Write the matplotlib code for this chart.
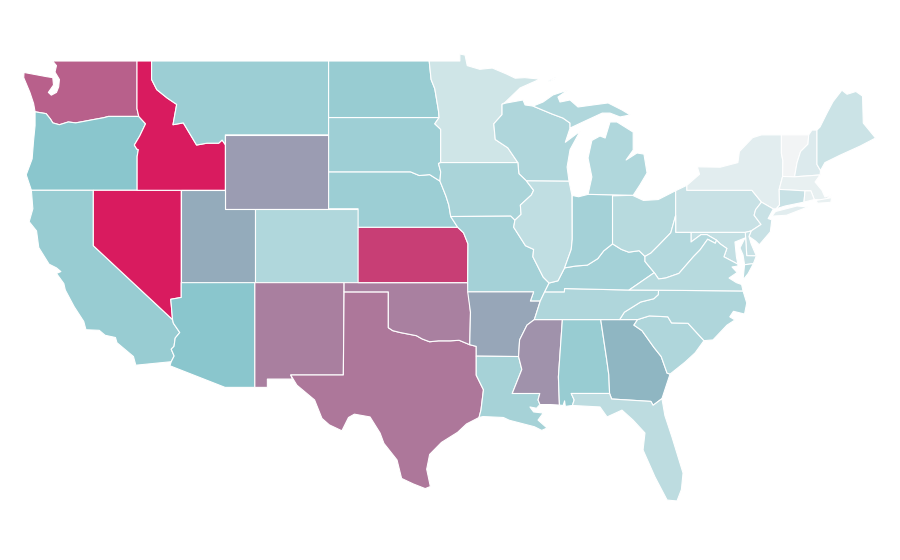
import matplotlib
matplotlib.use('Agg')
import matplotlib.pyplot as plt
from matplotlib.colors import LinearSegmentedColormap

# state outlines in lon/lat
snake = [(-116.92,46.0),(-116.46,45.6),(-116.85,44.95),(-117.22,44.45),(-117.05,44.23),(-116.95,44.2),(-117.03,43.83),(-117.03,42.0)]
columbia = [(-123.95,46.25),(-123.2,46.15),(-122.9,45.85),(-122.75,45.65),(-122.3,45.55),(-121.7,45.7),(-121.2,45.65),(-120.65,45.73),(-119.99,45.83),(-119.3,45.93),(-118.98,46.0),(-116.92,46.0)]
bitterroot = [(-116.05,49.0),(-116.05,48.0),(-115.7,47.45),(-115.0,47.0),(-114.35,46.65),(-114.6,45.55),(-113.9,45.65),(-113.45,45.05),(-113.0,44.45),(-112.3,44.55),(-111.5,44.55),(-111.27,44.72),(-111.05,44.47)]
colorado_r = [(-114.75,36.1),(-114.63,35.0),(-114.57,34.8),(-114.14,34.3),(-114.45,34.0),(-114.53,33.55),(-114.72,33.4),(-114.52,33.03),(-114.72,32.72)]
red_r = [(-94.48,33.64),(-95.2,33.88),(-95.8,33.85),(-96.6,33.85),(-97.2,33.8),(-97.7,33.95),(-98.1,34.13),(-99.2,34.3),(-99.7,34.4),(-100.0,34.56)]
mo_lower = [(-96.5,42.5),(-96.1,41.7),(-95.9,41.2),(-95.77,40.58),(-95.3,40.0)]
mn_wi = [(-92.29,46.66),(-92.29,46.1),(-92.85,45.6),(-92.75,44.75),(-91.9,44.3),(-91.22,43.5)]
ms_ia_il = [(-91.22,43.5),(-91.15,42.9),(-90.64,42.51),(-90.15,42.0),(-90.3,41.75),(-91.05,41.2),(-91.0,40.7),(-91.42,40.38)]
ms_mo_il = [(-91.42,40.38),(-91.5,40.0),(-90.7,39.0),(-90.15,38.8),(-90.2,38.4),(-89.5,37.3),(-89.1,36.98)]
ms_south = [(-89.4,36.5),(-89.7,36.0),(-90.1,35.0)]
ms_ar = [(-90.1,35.0),(-90.6,34.7),(-91.1,33.9),(-91.17,33.0)]
ms_la = [(-91.17,33.0),(-90.95,32.3),(-91.6,31.0)]
ohio_il_ky = [(-89.1,36.98),(-88.5,37.1),(-88.05,37.8)]
ohio_in_ky = [(-88.05,37.8),(-87.3,37.9),(-86.5,37.95),(-85.8,38.3),(-85.4,38.72),(-84.8,39.1)]
ohio_oh_ky = [(-84.8,39.1),(-84.2,38.8),(-83.7,38.65),(-83.0,38.73),(-82.6,38.42)]
ohio_oh_wv = [(-82.6,38.42),(-82.2,38.6),(-81.7,39.0),(-80.85,39.7),(-80.52,40.64)]
ky_wv = [(-82.6,38.42),(-82.6,38.15),(-81.97,37.54)]
va_wv = [(-81.97,37.54),(-81.68,37.2),(-81.2,37.25),(-80.3,37.5),(-79.3,38.42),(-78.87,38.77),(-78.35,39.35),(-77.83,39.13),(-77.75,39.3)]
potomac = [(-77.75,39.3),(-77.5,39.1),(-77.05,38.85),(-77.25,38.4),(-76.3,38.0)]
md_wv = [(-77.75,39.3),(-78.4,39.6),(-78.8,39.6),(-79.48,39.2),(-79.48,39.72)]
tn_nc = [(-81.68,36.59),(-81.7,36.35),(-82.0,36.13),(-82.9,35.95),(-84.0,35.4),(-84.32,35.0)]
sc_nc = [(-83.1,35.0),(-82.3,35.2),(-81.05,35.15),(-80.8,34.82),(-79.68,34.8),(-78.6,33.86)]
sc_ga = [(-83.1,35.0),(-83.35,34.7),(-82.8,34.4),(-82.0,33.5),(-81.5,33.0),(-81.1,32.1),(-80.9,32.05)]
al_ga = [(-85.6,35.0),(-85.2,32.87),(-85.05,32.0),(-85.0,31.0)]
fl_ga = [(-85.0,31.0),(-84.86,30.7),(-82.2,30.57),(-82.05,30.36),(-81.45,30.72)]
nj_pa = [(-74.7,41.36),(-75.1,40.95),(-75.2,40.65),(-74.73,40.15),(-75.4,39.8)]
wi_mi = [(-90.19,46.56),(-88.9,46.13),(-88.16,45.91),(-87.68,45.64),(-87.68,45.37)]
vt_nh = [(-71.5,45.0),(-71.55,44.5),(-72.05,44.1),(-72.29,43.5),(-72.46,42.73)]
vt_ny = [(-73.35,45.0),(-73.35,44.0),(-73.25,43.6),(-73.27,42.75)]

outlines = {
    'WA': [[(-117.03,49.0),(-122.76,49.0),(-122.5,48.75),(-122.6,48.4),(-122.3,48.0),(-122.35,47.6),(-122.5,47.3),(-122.85,47.15),(-123.05,47.3),(-122.7,47.7),(-122.75,48.1),(-123.15,48.15),(-124.7,48.38),(-124.72,48.1),(-124.3,47.3),(-124.05,46.7)] + columbia + [(-117.04,46.42)]],
    'OR': [[(-124.2,42.0),(-124.55,42.84),(-124.15,43.7),(-124.05,44.7),(-123.95,45.5)] + columbia + snake],
    'CA': [[(-124.2,42.0),(-120.0,42.0),(-120.0,39.0)] + colorado_r[1:] + [(-117.12,32.53),(-117.28,33.0),(-118.4,33.75),(-118.5,34.03),(-119.2,34.15),(-119.6,34.42),(-120.5,34.45),(-120.65,34.9),(-121.3,35.7),(-121.9,36.6),(-122.0,36.95),(-122.5,37.5),(-122.2,37.6),(-122.5,37.8),(-123.0,38.0),(-123.7,38.9),(-123.85,39.8),(-124.35,40.3),(-124.1,41.0)]],
    'NV': [[(-120.0,42.0),(-114.04,42.0),(-114.04,36.2)] + colorado_r[:2] + [(-120.0,39.0)]],
    'ID': [[(-117.04,49.0)] + bitterroot + [(-111.05,42.0)] + snake[::-1] + [(-117.04,46.42)]],
    'MT': [[(-104.05,49.0),(-104.05,45.0),(-111.05,45.0)] + bitterroot[::-1]],
    'WY': [[(-111.05,45.0),(-104.05,45.0),(-104.05,41.0),(-111.05,41.0)]],
    'UT': [[(-114.04,42.0),(-111.05,42.0),(-111.05,41.0),(-109.05,41.0),(-109.05,37.0),(-114.04,37.0)]],
    'CO': [[(-109.05,41.0),(-102.05,41.0),(-102.05,37.0),(-109.05,37.0)]],
    'AZ': [[(-114.04,37.0),(-109.05,37.0),(-109.05,31.33),(-111.07,31.33),(-114.81,32.5)] + colorado_r[::-1] + [(-114.04,36.2)]],
    'NM': [[(-109.05,37.0),(-103.0,37.0),(-103.05,32.0),(-106.62,32.0),(-106.5,31.78),(-108.2,31.78),(-108.2,31.33),(-109.05,31.33)]],
    'TX': [[(-103.0,36.5),(-100.0,36.5)] + red_r[::-1] + [(-94.04,33.55),(-94.04,31.99),(-93.55,31.2),(-93.72,30.1),(-93.85,29.7),(-94.7,29.35),(-95.3,28.9),(-96.4,28.35),(-97.2,27.7),(-97.4,26.9),(-97.15,25.96),(-97.5,25.85),(-98.3,26.1),(-99.1,26.4),(-99.41,27.4),(-100.3,28.3),(-100.56,28.86),(-101.24,29.73),(-102.3,29.88),(-102.7,29.7),(-103.15,28.98),(-104.0,29.3),(-104.5,29.65),(-105.0,30.65),(-106.2,31.45),(-106.62,32.0),(-103.05,32.0)]],
    'OK': [[(-103.0,37.0),(-94.62,37.0),(-94.43,35.4)] + red_r + [(-100.0,36.5),(-103.0,36.5)]],
    'KS': [[(-102.05,40.0),(-95.3,40.0),(-94.9,39.7),(-94.6,39.1),(-94.62,37.0),(-102.05,37.0)]],
    'NE': [[(-104.05,43.0),(-98.5,43.0),(-97.9,42.8),(-97.2,42.85)] + mo_lower + [(-102.05,40.0),(-102.05,41.0),(-104.05,41.0)]],
    'SD': [[(-104.05,45.94),(-96.56,45.94),(-96.85,45.6),(-96.45,45.3),(-96.45,43.5),(-96.6,43.45),(-96.45,43.0),(-96.5,42.5),(-97.2,42.85),(-97.9,42.8),(-98.5,43.0),(-104.05,43.0)]],
    'ND': [[(-104.05,49.0),(-97.23,49.0),(-97.1,48.0),(-96.85,47.5),(-96.6,46.3),(-96.56,45.94),(-104.05,45.94)]],
    'MN': [[(-97.23,49.0),(-95.15,49.0),(-95.15,49.38),(-94.8,49.32),(-94.65,48.75),(-93.8,48.55),(-92.95,48.62),(-92.0,48.3),(-91.4,48.07),(-90.75,48.1),(-89.72,48.02),(-91.07,47.54),(-92.1,46.75)] + mn_wi + [(-96.45,43.5),(-96.45,45.3),(-96.85,45.6),(-96.56,45.94),(-96.6,46.3),(-96.85,47.5),(-97.1,48.0)]],
    'WI': [[(-92.29,46.66),(-92.05,46.72),(-90.87,46.89),(-90.73,46.62)] + wi_mi + [(-88.0,44.6),(-87.0,45.2),(-87.68,44.2),(-87.88,43.26),(-87.75,42.49),(-90.64,42.51),(-91.15,42.9),(-91.22,43.5)] + mn_wi[::-1][1:]],
    'IA': [[(-96.45,43.5)] + ms_ia_il + [(-91.7,40.6),(-95.77,40.58),(-95.9,41.2),(-96.1,41.7),(-96.5,42.5),(-96.45,43.0),(-96.6,43.45)]],
    'MO': [[(-95.77,40.58),(-91.7,40.6)] + ms_mo_il + [(-89.4,36.5),(-89.7,36.0),(-90.37,36.0),(-90.15,36.5),(-94.62,36.5),(-94.62,37.0),(-94.6,39.1),(-94.9,39.7),(-95.3,40.0)]],
    'AR': [[(-94.62,36.5),(-90.15,36.5),(-90.37,36.0),(-89.7,36.0)] + ms_ar + [(-94.04,33.02),(-94.04,33.55),(-94.48,33.64),(-94.43,35.4)]],
    'LA': [[(-94.04,33.02)] + ms_la + [(-89.73,31.0),(-89.85,30.65),(-89.72,30.4),(-89.95,30.2),(-90.4,30.27),(-90.15,30.0),(-89.5,29.94),(-89.85,29.56),(-89.24,29.13),(-89.6,29.0),(-90.1,29.2),(-91.07,29.4),(-91.8,29.55),(-92.2,29.7),(-93.58,29.75),(-93.85,29.7),(-93.72,30.1),(-93.55,31.2),(-94.04,31.99)]],
    'MS': [[(-90.1,35.0),(-88.2,35.0),(-88.47,31.9),(-88.4,30.37),(-89.0,30.4),(-89.72,30.4),(-89.85,30.65),(-89.73,31.0)] + ms_la[::-1] + ms_ar[::-1]],
    'AL': [[(-88.2,35.0)] + al_ga + [(-87.6,31.0),(-87.4,30.65),(-87.52,30.35),(-88.0,30.3),(-88.05,30.6),(-88.15,30.35),(-88.4,30.37),(-88.47,31.9)]],
    'GA': [al_ga[::-1] + sc_ga + [(-81.1,31.57)] + fl_ga[::-1]],
    'FL': [[(-87.6,31.0)] + fl_ga + [(-81.25,29.8),(-80.77,28.64),(-80.02,26.69),(-80.13,25.8),(-80.43,25.18),(-81.1,25.23),(-81.92,26.48),(-82.73,27.94),(-82.6,28.86),(-83.41,29.56),(-84.16,30.1),(-85.17,29.73),(-85.65,30.27),(-87.52,30.35),(-87.4,30.65)]],
    'SC': [sc_nc + [(-79.2,33.2),(-79.88,32.7)] + sc_ga[::-1]],
    'NC': [[(-84.32,35.0)] + sc_nc + [(-77.99,33.9),(-77.04,34.7),(-76.5,34.98),(-76.85,35.15),(-76.6,35.45),(-75.85,35.3),(-75.7,35.9),(-75.95,36.55)] + tn_nc],
    'TN': [[(-90.1,35.0)] + ms_south[::-1][1:] + [(-88.07,36.5),(-88.05,36.68),(-83.68,36.6)] + tn_nc],
    'KY': [[(-89.4,36.5)] + ohio_il_ky + ohio_in_ky[1:] + ohio_oh_ky[1:] + ky_wv[1:] + [(-83.68,36.6),(-88.05,36.68),(-88.07,36.5)]],
    'IL': [[(-90.64,42.51),(-87.75,42.49),(-87.55,41.72),(-87.53,39.35),(-87.6,38.8)] + ohio_il_ky[::-1] + ms_mo_il[::-1] + ms_ia_il[::-1][1:5]],
    'IN': [[(-87.53,41.72),(-87.1,41.65),(-86.46,41.78),(-84.8,41.76)] + ohio_in_ky[::-1] + [(-87.6,38.8),(-87.53,39.35)]],
    'OH': [[(-84.8,41.7),(-83.45,41.73),(-82.7,41.45),(-81.7,41.5),(-80.52,41.98)] + ohio_oh_wv[::-1] + ohio_oh_ky[::-1]],
    'MI': [[(-86.46,41.78),(-83.4,41.73),(-82.94,42.29),(-82.46,42.94),(-82.67,43.96),(-83.14,44.02),(-83.88,43.64),(-83.4,44.18),(-83.4,45.15),(-84.5,45.7),(-84.97,45.7),(-85.3,44.83),(-85.65,44.94),(-86.2,44.7),(-86.46,43.75),(-86.2,42.72)],
           wi_mi + [(-86.8,45.7),(-85.5,46.18),(-84.97,46.18),(-84.29,45.97),(-83.6,46.08),(-84.16,46.35),(-85.1,46.73),(-86.13,46.62),(-87.14,46.51),(-87.68,46.89),(-88.36,46.78),(-88.5,47.05),(-87.82,47.43),(-88.84,47.16),(-89.51,46.78)],
           [(-89.1,47.87),(-88.63,48.07),(-88.7,48.1),(-89.15,47.93)]],
    'PA': [[(-80.52,41.98),(-79.76,42.27),(-79.76,42.0),(-75.35,42.0)] + nj_pa + [(-75.8,39.72),(-80.52,39.72)]],
    'NY': [[(-79.76,42.0),(-79.76,42.27),(-78.9,42.87),(-79.05,43.27),(-77.5,43.25),(-76.3,43.5),(-76.2,44.1),(-75.3,44.85),(-74.7,45.0)] + vt_ny + [(-73.5,42.05),(-73.48,41.2),(-73.7,41.0),(-73.9,40.99),(-74.7,41.36),(-75.35,42.0)],
           [(-74.0,40.6),(-73.75,40.85),(-72.3,41.15),(-71.55,41.1),(-73.0,40.65)]],
    'VT': [vt_ny + vt_nh[::-1]],
    'NH': [vt_nh + [(-70.73,42.83),(-70.7,43.07),(-70.94,43.4),(-70.94,45.26),(-71.28,45.26)]],
    'ME': [[(-70.94,45.26),(-70.73,45.43),(-70.25,46.2),(-69.85,46.8),(-69.25,47.42),(-68.9,47.2),(-68.3,47.35),(-67.85,47.1),(-67.8,45.64),(-67.45,45.3),(-66.97,44.83),(-68.0,44.4),(-69.38,43.9),(-70.4,43.5),(-70.7,43.07),(-70.94,43.4)]],
    'MA': [[(-73.5,42.05),(-73.27,42.75),(-72.46,42.73),(-70.73,42.83),(-71.07,42.45),(-70.6,42.0),(-70.4,41.64),(-69.92,41.75),(-70.4,41.48),(-71.12,41.5),(-71.35,41.97),(-71.75,41.97)],
           [(-71.0,41.45),(-69.95,41.6),(-70.0,41.35),(-70.9,41.3)]],
    'CT': [[(-73.5,42.05),(-71.75,41.97),(-71.82,41.36),(-73.1,41.15),(-73.7,41.0),(-73.48,41.2)]],
    'RI': [[(-71.75,41.97),(-71.35,41.97),(-71.12,41.5),(-71.82,41.36)]],
    'NJ': [[(-73.9,40.99),(-74.25,40.47),(-74.0,40.4),(-74.1,39.75),(-74.85,39.05),(-75.1,39.25),(-75.55,39.5)] + nj_pa[::-1]],
    'DE': [[(-75.8,39.72),(-75.4,39.8),(-75.55,39.5),(-75.4,39.1),(-75.05,38.45),(-75.7,38.46)]],
    'MD': [[(-79.48,39.72),(-75.8,39.72),(-75.7,38.46),(-75.05,38.45),(-75.25,38.03),(-75.85,37.97),(-75.95,38.5),(-76.16,38.88),(-75.82,39.42),(-76.5,39.2),(-76.4,38.4)] + potomac[::-1] + md_wv[1:]],
    'WV': [ohio_oh_wv[::-1][:1] + [(-80.52,39.72)] + md_wv[::-1] + va_wv[::-1][1:] + ky_wv[::-1][1:] + ohio_oh_wv[1:4]],
    'VA': [[(-83.68,36.6),(-81.68,36.59),(-75.95,36.55),(-76.05,36.9),(-76.4,37.0),(-76.9,37.25),(-76.35,37.55),(-76.7,37.85),(-76.3,37.9)] + potomac[::-1] + va_wv[::-1][1:],
           [(-75.25,38.03),(-75.85,37.97),(-75.95,37.15),(-75.6,37.5)]],
}

state_names = ['WA','OR','CA','NV','ID','MT','WY','UT','CO','AZ','NM','TX','OK','KS','NE','SD','ND','MN','WI','IA','MO','AR','LA','MS','AL','GA','FL','SC','NC','TN','KY','IL','IN','OH','MI','PA','NY','VT','NH','ME','MA','CT','RI','NJ','DE','MD','WV','VA']
state_values = [0.795,0.49,0.425,1.0,1.0,0.41,0.62,0.575,0.31,0.49,0.705,0.73,0.70,0.895,0.41,0.395,0.425,0.165,0.32,0.34,0.37,0.59,0.36,0.65,0.425,0.545,0.25,0.32,0.32,0.32,0.37,0.235,0.37,0.28,0.31,0.20,0.075,0.0,0.105,0.185,0.05,0.20,0.05,0.20,0.20,0.22,0.30,0.28]

cmap = LinearSegmentedColormap.from_list('shade', ['#f2f4f5', '#88c5cc', '#d91b5f'])

fig = plt.figure(figsize=(9, 5.6), dpi=100)
ax = fig.add_axes([0, 0, 1, 1])

for name, val in zip(state_names, state_values):
    for part in outlines[name]:
        lon, lat = zip(*part)
        ax.fill(lon, lat, facecolor=cmap(val), edgecolor='white', linewidth=0.8, joinstyle='round')

# pixel scale of the map: 14.75 px per deg lon, 18.47 px per deg lat
ax.set_xlim(-126.328, -65.31)
ax.set_ylim(21.984, 52.303)
ax.axis('off')

fig.savefig('out.png', dpi=100, facecolor='white')
